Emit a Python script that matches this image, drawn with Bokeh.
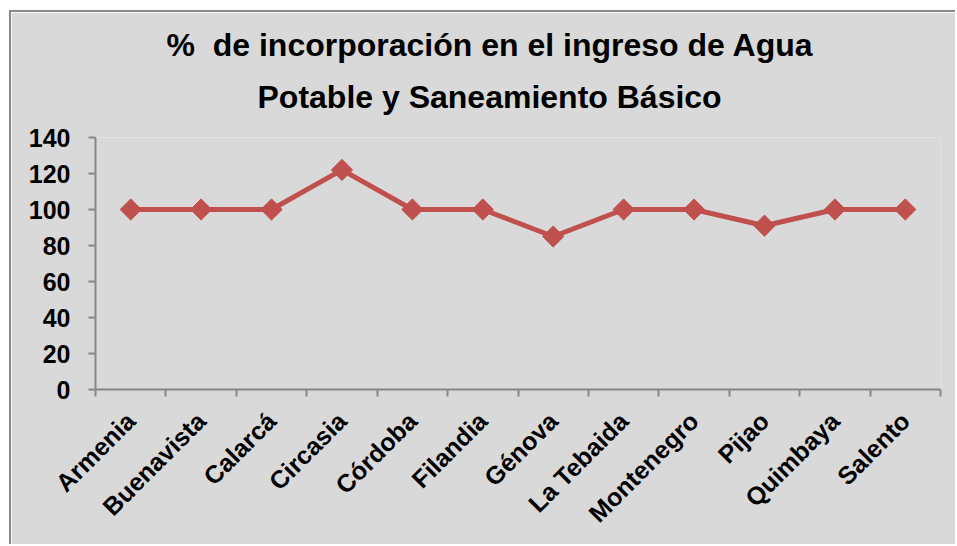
import math
from bokeh.plotting import figure
from bokeh.models import (Range1d, FactorRange, LinearAxis, CategoricalAxis, FixedTicker,
                          Title, ColumnDataSource)
from bokeh.embed import file_html
from bokeh.resources import INLINE

municipios = ["Armenia", "Buenavista", "Calarcá", "Circasia", "Córdoba", "Filandia",
              "Génova", "La Tebaida", "Montenegro", "Pijao", "Quimbaya", "Salento"]
porcentaje = [100, 100, 100, 122, 100, 100, 85, 100, 100, 91, 100, 100]
y_ticks = [0, 20, 40, 60, 80, 100, 120, 140]
titulo_1 = "%\u00a0 de incorporación en el ingreso de Agua"
titulo_2 = "Potable y Saneamiento Básico"

BG = "#D9D9D9"
AX = "#868686"
RED = "#C0504D"
FONT = "Liberation Sans"

p = figure(width=946, height=534, output_backend="svg", toolbar_location=None,
           x_range=FactorRange(factors=municipios, range_padding=0),
           y_range=Range1d(0, 140), x_axis_type=None, y_axis_type=None,
           min_border_left=84, min_border_right=17, min_border_top=125,
           min_border_bottom=157,
           styles={"margin-left": "9px", "margin-top": "10px",
                   "border-left": "2px solid #8A8A8A", "border-top": "2px solid #8A8A8A"})
p.background_fill_color = BG
p.border_fill_color = BG
p.outline_line_color = None
p.grid.visible = False

# y axis
yax = LinearAxis(ticker=FixedTicker(ticks=y_ticks))
yax.axis_line_color = AX
yax.axis_line_width = 2
yax.major_tick_line_color = AX
yax.major_tick_line_width = 2
yax.major_tick_out = 7
yax.major_tick_in = 0
yax.minor_tick_line_color = None
yax.major_label_text_font = FONT
yax.major_label_text_font_style = "bold"
yax.major_label_text_font_size = "25px"
yax.major_label_text_color = "black"
yax.major_label_standoff = 18
p.add_layout(yax, "left")

# x axis: ticks on the boundaries between categories (synthetic coordinates)
xtick = LinearAxis(ticker=FixedTicker(ticks=list(range(len(municipios) + 1))))
xtick.axis_line_color = AX
xtick.axis_line_width = 2
xtick.major_tick_line_color = AX
xtick.major_tick_line_width = 2
xtick.major_tick_out = 7
xtick.major_tick_in = 0
xtick.minor_tick_line_color = None
xtick.major_label_text_font_size = "1px"
xtick.major_label_text_alpha = 0
xtick.major_label_text_color = None
xtick.major_label_standoff = 0
p.add_layout(xtick, "below")

xax = CategoricalAxis()
xax.axis_line_color = None
xax.major_tick_line_color = None
xax.major_label_orientation = math.pi / 4
xax.major_label_text_font = FONT
xax.major_label_text_font_style = "bold"
xax.major_label_text_font_size = "25px"
xax.major_label_text_color = "black"
xax.major_label_standoff = 14
p.add_layout(xax, "below")

src = ColumnDataSource(dict(x=municipios, y=porcentaje))
p.line("x", "y", source=src, line_color=RED, line_width=5)
p.scatter("x", "y", source=src, marker="square", angle=math.pi / 4, size=15,
          fill_color=RED, line_color=RED)

t2 = Title(text=titulo_2, align="left", offset=162, standoff=45,
           text_font=FONT, text_font_style="bold", text_font_size="32px",
           text_color="black")
t1 = Title(text=titulo_1, align="left", offset=71, standoff=-16,
           text_font=FONT, text_font_style="bold", text_font_size="32px",
           text_color="black")
p.add_layout(t2, "above")
p.add_layout(t1, "above")

open("out.html", "w").write(file_html(p, INLINE))
